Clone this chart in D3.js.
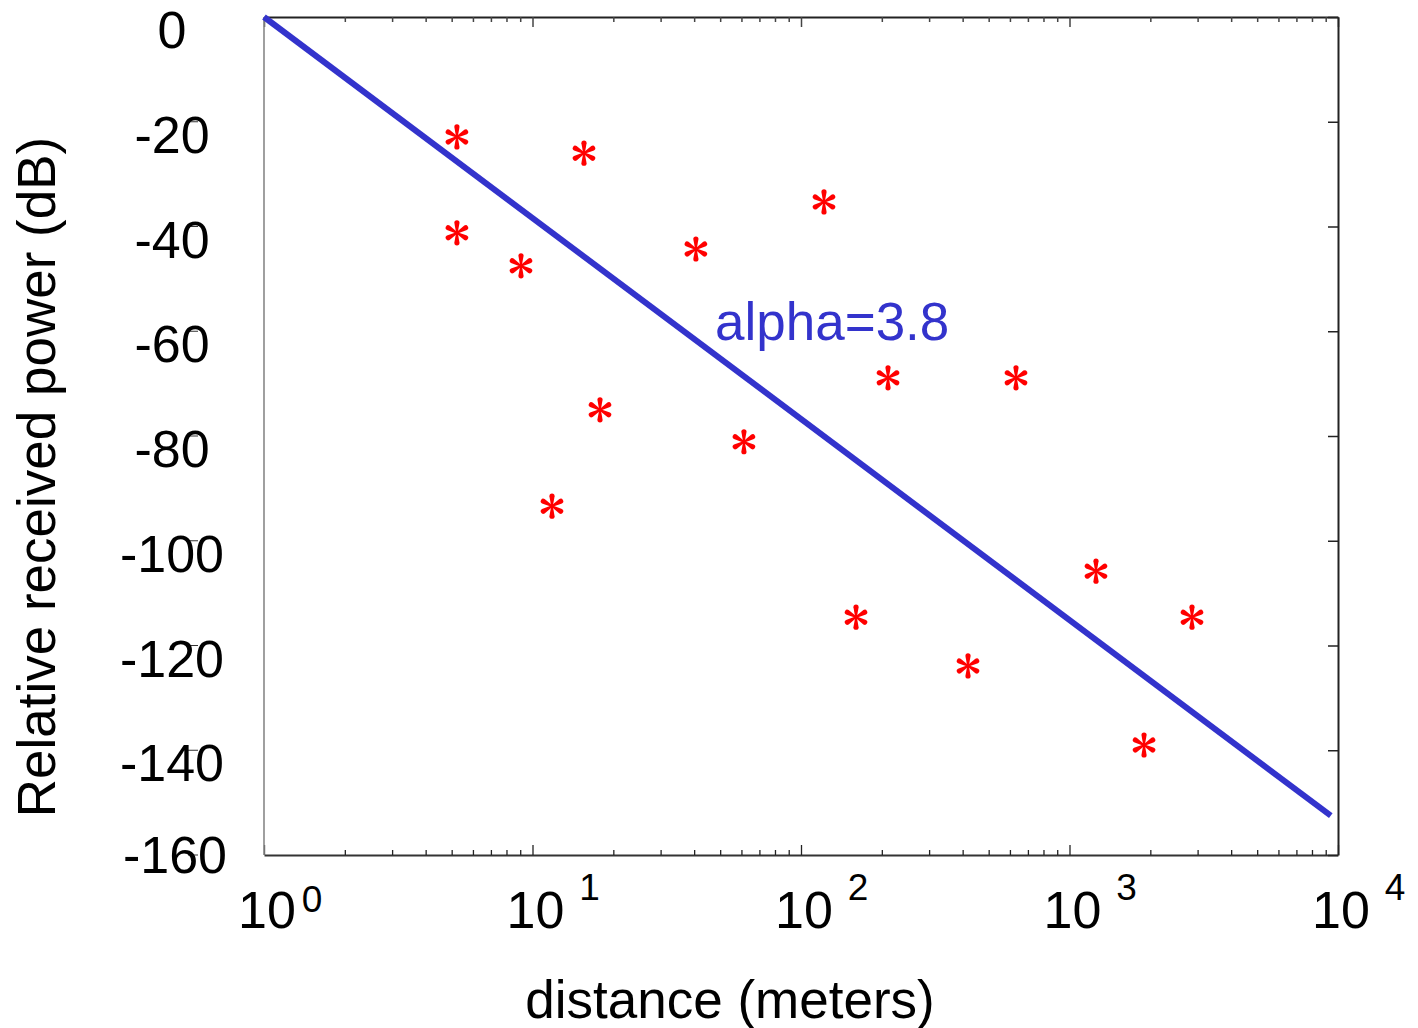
<!DOCTYPE html>
<html>
<head>
<meta charset="utf-8">
<script src="https://cdn.jsdelivr.net/npm/d3@7"></script>
<style>
  body { margin: 0; background: #fff; }
  text { font-family: "Liberation Sans", Arial, sans-serif; }
</style>
</head>
<body>
<div id="chart"></div>
<script>
// measured points (distance in meters, relative power in dB)
var distances = [5.23, 15.55, 5.23, 9.06, 40.6, 121.8, 210.9, 632, 17.84, 61.3, 11.82, 1255, 160.3, 2859, 418.8, 1895];
var powers = [-22.9, -26.0, -41.2, -47.5, -44.3, -35.3, -68.9, -68.9, -75.0, -81.1, -93.4, -105.8, -114.6, -114.6, -123.9, -139.0];

// fitted path-loss line end points
var lineDist = [1, 9400];
var linePow = [0, -152.5];

var yTicks = [0, -20, -40, -60, -80, -100, -120, -140, -160];
var xMajor = [1, 10, 100, 1000, 10000];
var xExp = ["0", "1", "2", "3", "4"];

var W = 1418, H = 1028;
var pLeft = 264, pRight = 1338, pTop = 17, pBottom = 855;

var svg = d3.select('#chart').append('svg')
    .attr('width', W)
    .attr('height', H)

var x = d3.scaleLog().domain([1, 10000]).range([pLeft, pRight])
var y = d3.scaleLinear().domain([-160, 0]).range([pBottom, pTop])

// all log ticks
var xAll = []
for (var e = 0; e < 4; e++) {
    for (var k = 1; k < 10; k++) xAll.push(k * Math.pow(10, e))
}
xAll.push(10000)

function isMajor(d) { return xMajor.indexOf(d) >= 0 }

// bottom axis
var gb = svg.append('g')
    .attr('transform', 'translate(0,' + pBottom + ')')
    .call(d3.axisBottom(x).tickValues(xAll).tickFormat('').tickSizeOuter(0))
gb.selectAll('.tick line').attr('y2', d => isMajor(d) ? -10 : -5).attr('stroke', '#222').attr('stroke-width', 1.3)
gb.select('.domain').attr('stroke', '#333').attr('stroke-width', 1.8)

// top axis
var gt = svg.append('g')
    .attr('transform', 'translate(0,' + pTop + ')')
    .call(d3.axisTop(x).tickValues(xAll).tickFormat('').tickSizeOuter(0))
gt.selectAll('.tick line').attr('y2', d => isMajor(d) ? 10 : 5).attr('stroke', '#444').attr('stroke-width', 1.5)
gt.select('.domain').attr('stroke', '#222').attr('stroke-width', 2.2)

// right axis
var gr = svg.append('g')
    .attr('transform', 'translate(' + pRight + ',0)')
    .call(d3.axisRight(y).tickValues(yTicks).tickFormat('').tickSizeOuter(0))
gr.selectAll('.tick line').attr('x2', -10).attr('stroke', '#222').attr('stroke-width', 1.5)
gr.select('.domain').attr('stroke', '#222').attr('stroke-width', 2)

// left axis line (grey)
svg.append('line')
    .attr('x1', pLeft).attr('x2', pLeft)
    .attr('y1', pTop).attr('y2', pBottom)
    .attr('stroke', '#888')
    .attr('stroke-width', 1.6)

// left tick marks sit off the axis, near the labels
svg.selectAll('.lt').data(yTicks.slice(1)).enter().append('line')
    .attr('x1', 188).attr('x2', 198)
    .attr('y1', d => y(d)).attr('y2', d => y(d))
    .attr('stroke', '#333')
    .attr('stroke-width', 1)

// y tick labels
svg.selectAll('.yl').data(yTicks).enter().append('text')
    .attr('x', d => d === -160 ? 175 : 172)
    .attr('y', d => d === -160 ? y(d) + 18 : y(d) + 31)
    .attr('text-anchor', 'middle')
    .attr('font-size', 52)
    .text(d => d)

// x tick labels: 10 with superscript
var xl = svg.selectAll('.xl').data(xMajor).enter().append('text')
    .attr('x', d => x(d) - 26)
    .attr('y', 928)
    .attr('font-size', 52)
xl.append('tspan').text('10')
xl.append('tspan')
    .attr('font-size', 37)
    .attr('dx', (d, i) => i === 0 ? 6 : 15)
    .attr('dy', (d, i) => i === 0 ? -16 : -28)
    .text((d, i) => xExp[i])

// axis titles
svg.append('text')
    .attr('x', 730).attr('y', 1018)
    .attr('text-anchor', 'middle')
    .attr('font-size', 53)
    .text('distance (meters)')

svg.append('text')
    .attr('transform', 'translate(55,477) rotate(-90)')
    .attr('text-anchor', 'middle')
    .attr('font-size', 53)
    .text('Relative received power (dB)')

// fitted line
var lineData = lineDist.map((d, i) => [d, linePow[i]])
svg.append('path')
    .datum(lineData)
    .attr('d', d3.line().x(d => x(d[0])).y(d => y(d[1])))
    .attr('stroke', '#3333cc')
    .attr('stroke-width', 6)
    .attr('fill', 'none')

svg.append('text')
    .attr('x', 715).attr('y', 340)
    .attr('font-size', 53)
    .attr('fill', '#3333cc')
    .text('alpha=3.8')

// asterisk markers
var petal = 'M-1,-1 L-2.6,-10 A2.6,2.6 0 0 1 2.6,-10 L1,-1 Z'
var pts = distances.map((d, i) => [d, powers[i]])
var mk = svg.selectAll('.mk').data(pts).enter().append('g')
    .attr('transform', d => 'translate(' + x(d[0]) + ',' + y(d[1]) + ')')
    .attr('fill', '#ff0000')
mk.append('circle').attr('r', 2)
mk.selectAll('path').data([0, 60, 120, 180, 240, 300]).enter().append('path')
    .attr('d', petal)
    .attr('transform', a => 'rotate(' + a + ')')
</script>
</body>
</html>
